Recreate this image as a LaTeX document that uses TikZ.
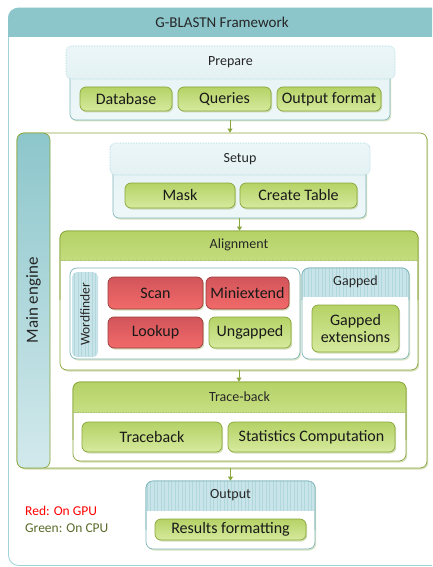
\documentclass[tikz,border=0pt]{standalone}
\usepackage{fontspec}
\setmainfont{Carlito}
\usetikzlibrary{arrows.meta,shadows}

\definecolor{tealhead}{HTML}{8CC6CB}
\definecolor{tealline}{HTML}{7FB6BC}
\definecolor{tealframe}{HTML}{9ED3D8}
\definecolor{tealpale}{HTML}{E4F2F4}
\definecolor{tealgridbg}{HTML}{C9E4E8}
\definecolor{tealgridln}{HTML}{B0D7DC}
\definecolor{greenA}{HTML}{B5D266}
\definecolor{greenB}{HTML}{D6EA9E}
\definecolor{greenline}{HTML}{89A73C}
\definecolor{redA}{HTML}{D2555A}
\definecolor{redB}{HTML}{F26A6A}
\definecolor{redline}{HTML}{983C3C}
\definecolor{legendgreen}{HTML}{5B6B2B}

\newcommand{\itemfont}{\fontsize{16}{17}\selectfont}
\newcommand{\headfont}{\fontsize{14}{16}\selectfont}

\begin{document}
\begin{tikzpicture}[x=1pt,y=-1pt,
  item/.style={draw=greenline, line width=0.7pt, rounded corners=6pt,
    top color=greenA, bottom color=greenB, inner sep=1pt, font=\itemfont,
    text=black!90,
    drop shadow={shadow xshift=1.2pt, shadow yshift=-1.5pt, opacity=0.35, fill=greenline}},
  reditem/.style={item, draw=redline, top color=redA, bottom color=redB},
  tealbody/.style={draw=tealline, line width=0.6pt, rounded corners=6pt,
    top color=tealpale, bottom color=tealpale!60!white,
    drop shadow={shadow xshift=1.2pt, shadow yshift=-1.5pt, opacity=0.3, fill=greenline}},
  paletop/.style={draw=tealframe, line width=0.6pt, densely dotted, rounded corners=6pt,
    top color=tealpale!70!white, bottom color=tealpale},
  whitebox/.style={draw=greenline, line width=0.7pt, rounded corners=7pt, fill=white,
    drop shadow={shadow xshift=1.2pt, shadow yshift=-1.5pt, opacity=0.35, fill=greenline}},
  tealbox/.style={draw=tealline, line width=0.7pt, rounded corners=7pt, fill=white,
    drop shadow={shadow xshift=1.2pt, shadow yshift=-1.5pt, opacity=0.3, fill=greenline}},
  greenhead/.style={top color=greenA, bottom color=greenB},
  gridhead/.style={fill=tealgridbg,
    path picture={\draw[tealgridln, line width=0.45pt, step=3.5]
      (path picture bounding box.south west) grid (path picture bounding box.north east);}},
  headtext/.style={font=\headfont, text=black!85},
  arr/.style={draw=greenline, line width=0.8pt, -{Triangle[length=4pt,width=5pt]}}
]
\useasboundingbox (0,0) rectangle (432,567);
\clip (0,0) rectangle (432,567);

% outer framework frame with its title band
\draw[draw=tealframe, line width=0.8pt, fill=white, rounded corners=10pt] (8.5,8) rectangle (450,565.5);
\begin{scope}
  \clip (0,0) rectangle (432,37);
  \fill[tealhead, rounded corners=10pt] (8,8) rectangle (450,80);
\end{scope}
\node[font=\fontsize{15}{17}\selectfont, text=black!85] (title) at (222,22) {G-BLASTN Framework};

% ---------- Prepare ----------
\node[tealbody, minimum width=320pt, minimum height=58pt] (prepbody) at (230,91) {};
\node[paletop, minimum width=329pt, minimum height=33pt, headtext] (prephead) at (230.5,62.5) {Prepare};
\node[item, minimum width=92pt, minimum height=24pt] (db) at (126,99) {Database};
\node[item, minimum width=93pt, minimum height=24pt] (qu) at (224.5,99) {Queries};
\node[item, minimum width=104pt, minimum height=24pt] (of) at (329,99) {Output format};

% ---------- Main engine ----------
\node[whitebox, minimum width=410pt, minimum height=335pt] (main) at (222,300.5) {};
\node[draw=greenline, line width=0.7pt, rounded corners=7pt, top color=tealhead, bottom color=tealpale!80!tealhead,
      minimum width=33pt, minimum height=335pt] (mainbar) at (33.5,300.5) {};
\node[rotate=90, font=\fontsize{17}{19}\selectfont, text=black!85] (maintext) at (mainbar.center) {Main engine};

\draw[arr] (prepbody.south) -- (prepbody.south |- main.north);

% ---------- Setup ----------
\node[tealbody, minimum width=253pt, minimum height=59pt] (setbody) at (239.5,188.5) {};
\node[paletop, minimum width=260pt, minimum height=32pt, headtext] (sethead) at (240,159) {Setup};
\node[item, minimum width=110pt, minimum height=25pt] (mask) at (180,195.5) {Mask};
\node[item, minimum width=117pt, minimum height=25pt] (ct) at (298.5,195.5) {Create Table};

% ---------- Alignment ----------
\node[whitebox, minimum width=358pt, minimum height=139pt] (align) at (239,300.5) {};
\begin{scope}
  \clip (55,226) rectangle (425,260);
  \shade[greenhead, rounded corners=7pt] (60,231) rectangle (418,300);
\end{scope}
\draw[greenline, line width=0.7pt, rounded corners=7pt] (60,300) -- (60,231) -- (418,231) -- (418,300);
\draw[greenline!70, line width=0.6pt, densely dotted] (60.5,260) -- (417.5,260);
\node[headtext] (aligntext) at (239,245) {Alignment};

\draw[arr] (setbody.south) -- (setbody.south |- align.north);

% Wordfinder
\node[tealbox, minimum width=230pt, minimum height=91pt] (wf) at (185,313.5) {};
\node[gridhead, rounded corners=5pt, minimum width=26pt, minimum height=85pt] (wfbar) at (85,314.5) {};
\node[rotate=90, font=\fontsize{13.5}{15}\selectfont, text=black!85] (wftext) at (wfbar.center) {Wordfinder};
\node[reditem, minimum width=95pt, minimum height=32pt] (scan) at (155.5,293) {Scan};
\node[reditem, minimum width=83pt, minimum height=32pt] (mini) at (247.5,293) {Miniextend};
\node[reditem, minimum width=95pt, minimum height=31pt] (look) at (155.5,332.5) {Lookup};
\node[item, minimum width=82pt, minimum height=31pt] (ung) at (250,332.5) {Ungapped};

% Gapped
\node[tealbox, minimum width=107pt, minimum height=91pt] (gap) at (355.5,313.5) {};
\begin{scope}
  \clip (298,262) rectangle (414,296);
  \path[gridhead, rounded corners=7pt] (302,268) rectangle (409,320);
\end{scope}
\draw[tealline, line width=0.7pt, rounded corners=7pt] (302,300) -- (302,268) -- (409,268) -- (409,300);
\node[headtext] (gaptext) at (355.5,282) {Gapped};
\node[item, align=center, minimum width=87pt, minimum height=47pt] (gext) at (355.5,328.5) {Gapped\\extensions};

% ---------- Trace-back ----------
\node[whitebox, minimum width=333pt, minimum height=79pt] (tb) at (239.5,421.5) {};
\begin{scope}
  \clip (68,377) rectangle (412,412);
  \shade[greenhead, rounded corners=7pt] (73,382) rectangle (406,440);
\end{scope}
\draw[greenline, line width=0.7pt, rounded corners=7pt] (73,440) -- (73,382) -- (406,382) -- (406,440);
\draw[greenline!70, line width=0.6pt, densely dotted] (73.5,412) -- (405.5,412);
\node[headtext] (tbtext) at (239.5,397) {Trace-back};
\node[item, minimum width=140pt, minimum height=30pt] (trace) at (152,437) {Traceback};
\node[item, minimum width=167pt, minimum height=30pt] (stats) at (311.5,437) {Statistics Computation};

\draw[arr] (align.south) -- (align.south |- tb.north);

% ---------- Output ----------
\node[tealbox, minimum width=169pt, minimum height=68pt] (out) at (230.5,515) {};
\begin{scope}
  \clip (140,476) rectangle (321,510);
  \path[gridhead, rounded corners=7pt] (146,481) rectangle (315,530);
\end{scope}
\draw[tealline, line width=0.7pt, rounded corners=7pt] (146,530) -- (146,481) -- (315,481) -- (315,530);
\node[headtext] (outtext) at (230.5,495) {Output};
\node[item, minimum width=151pt, minimum height=21pt] (res) at (230.5,529.5) {Results formatting};

\draw[arr] (out.north |- main.south) -- (out.north);

% legend
\node[anchor=west, inner sep=0pt, font=\fontsize{13.5}{15}\selectfont, text=red] (legred) at (25,511) {Red: On GPU};
\node[anchor=west, inner sep=0pt, font=\fontsize{13.5}{15}\selectfont, text=legendgreen] (leggreen) at (25,528) {Green: On CPU};
\end{tikzpicture}
\end{document}
